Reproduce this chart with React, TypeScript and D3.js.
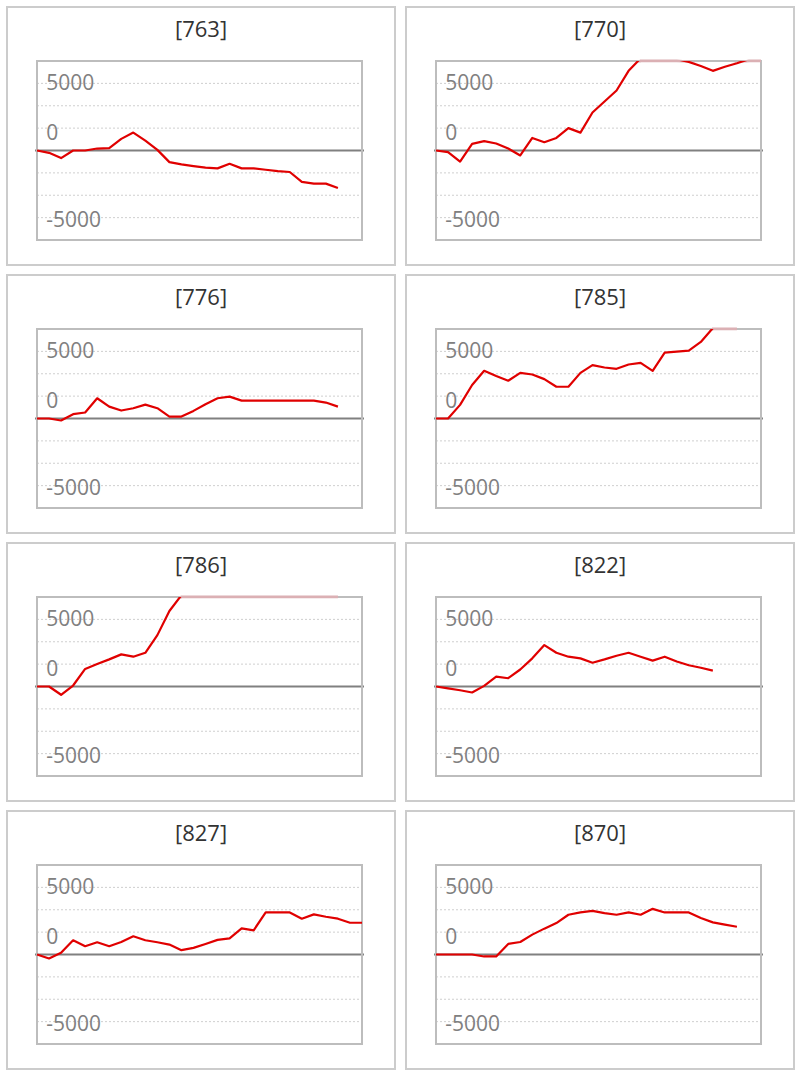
import React from 'react'
import * as d3 from 'd3'

// panel ids, one series per panel (index = x position)
const panelIds = ['763', '770', '776', '785', '786', '822', '827', '870']

const s763 = [0, -260, -850, 0, 0, 220, 260, 1300, 2000, 1100, 70, -1300, -1550, -1740, -1920, -2000, -1480, -2000, -2000, -2150, -2300, -2400, -3500, -3700, -3700, -4200]
const s770 = [0, -180, -1250, 740, 1040, 780, 220, -550, 1400, 920, 1400, 2500, 2000, 4250, 5480, 6700, 8900, 10300, 10600, 10500, 10200, 9900, 9450, 8900, 9350, 9750, 10200, 10400]
const s776 = [0, 0, -220, 480, 670, 2260, 1330, 890, 1150, 1550, 1150, 220, 220, 850, 1600, 2260, 2440, 2000, 2000, 2000, 2000, 2000, 2000, 2000, 1780, 1330]
const s785 = [0, 0, 1520, 3740, 5330, 4740, 4220, 5100, 4920, 4400, 3550, 3550, 5100, 5960, 5700, 5550, 6030, 6220, 5330, 7360, 7470, 7590, 8550, 10100, 10600, 10800]
const s786 = [0, 0, -925, 110, 1960, 2520, 3030, 3590, 3330, 3770, 5740, 8440, 10200, 11500, 12300, 12800, 13100, 13600, 13400, 13900, 14200, 14000, 14500, 14800, 15000, 15200]
const s822 = [0, -200, -420, -670, 70, 1110, 925, 1900, 3145, 4625, 3770, 3330, 3145, 2660, 3030, 3440, 3770, 3330, 2890, 3330, 2790, 2370, 2100, 1780]
const s827 = [0, -440, 185, 1590, 925, 1370, 925, 1400, 2035, 1590, 1370, 1110, 480, 740, 1180, 1630, 1810, 2920, 2700, 4700, 4700, 4700, 4000, 4480, 4220, 4000, 3550, 3550]
const s870 = [0, 0, 0, 0, -220, -220, 1180, 1400, 2220, 2890, 3515, 4440, 4700, 4880, 4625, 4440, 4700, 4440, 5100, 4700, 4700, 4700, 4070, 3590, 3330, 3100]

const series = [s763, s770, s776, s785, s786, s822, s827, s870]

const gridValues = [-7500, -5000, -2500, 2500, 5000, 7500]
const tickValues = [5000, 0, -5000]
const tickLabels = ['5000', '0', '-5000']

const panelW = 390
const panelH = 260
const pitchX = 399
const pitchY = 268
const plotLeft = 31
const plotTop = 55
const plotW = 325
const plotH = 179

const x = d3.scaleLinear().domain([0, 27]).range([0, plotW])
const y = d3.scaleLinear().domain([-10000, 10000]).range([plotH, 0])
const yClamped = y.copy().clamp(true)
// the original's tick labels don't sit on their own gridlines
const labelY = d3.scaleLinear().domain([5000, 0, -5000]).range([y(6800), y(1200), y(-8550)])

const line = d3.line<number>().x((d, i) => x(i)).y(d => y(d))
const lineClamped = d3.line<number>().x((d, i) => x(i)).y(d => yClamped(d))

const font = "'Open Sans', 'Noto Sans', sans-serif"

const Panel = ({ id, data, col, row }: { id: string; data: number[]; col: number; row: number }) => {
  const px = 6 + col * pitchX
  const py = 6 + row * pitchY
  return (
    <g transform={`translate(${px},${py})`}>
      <defs>
        <clipPath id={`clip-${id}`}>
          <rect x={-3} y={0} width={plotW + 6} height={plotH} />
        </clipPath>
        <clipPath id={`edge-${id}`}>
          <rect x={-3} y={-2} width={plotW + 6} height={3.5} />
        </clipPath>
      </defs>
      <rect x={1} y={1} width={panelW - 2} height={panelH - 2} fill="#fff" stroke="#cccccc" strokeWidth={2} />
      <text x={panelW / 2} y={30.7} textAnchor="middle" fontFamily={font} fontSize={22} fill="#333">
        [{id}]
      </text>
      <g transform={`translate(${plotLeft},${plotTop})`}>
        {gridValues.map(v => (
          <line key={v} x1={0} x2={plotW} y1={y(v)} y2={y(v)} stroke="#cfcfcf" strokeWidth={1} strokeDasharray="2,2" />
        ))}
        <line x1={-2} x2={plotW + 2} y1={y(0)} y2={y(0)} stroke="#808080" strokeWidth={2} />
        {tickValues.map((v, i) => (
          <text key={v} x={9.3} y={labelY(v)} fontFamily={font} fontSize={21} fill="#808080">
            {tickLabels[i]}
          </text>
        ))}
        <rect x={0} y={0} width={plotW} height={plotH} fill="none" stroke="#bdbdbd" strokeWidth={2} />
        <path d={lineClamped(data) ?? ''} fill="none" stroke="#dbb0b4" strokeWidth={3} clipPath={`url(#edge-${id})`} />
        <path d={line(data) ?? ''} fill="none" stroke="#e00000" strokeWidth={2.2} strokeLinejoin="round" clipPath={`url(#clip-${id})`} />
      </g>
    </g>
  )
}

export default function App() {
  return (
    <svg width={800} height={1076} style={{ position: 'absolute', left: 0, top: 0 }}>
      <rect width={800} height={1076} fill="#fff" />
      {panelIds.map((id, k) => (
        <Panel key={id} id={id} data={series[k]} col={k % 2} row={Math.floor(k / 2)} />
      ))}
    </svg>
  )
}
